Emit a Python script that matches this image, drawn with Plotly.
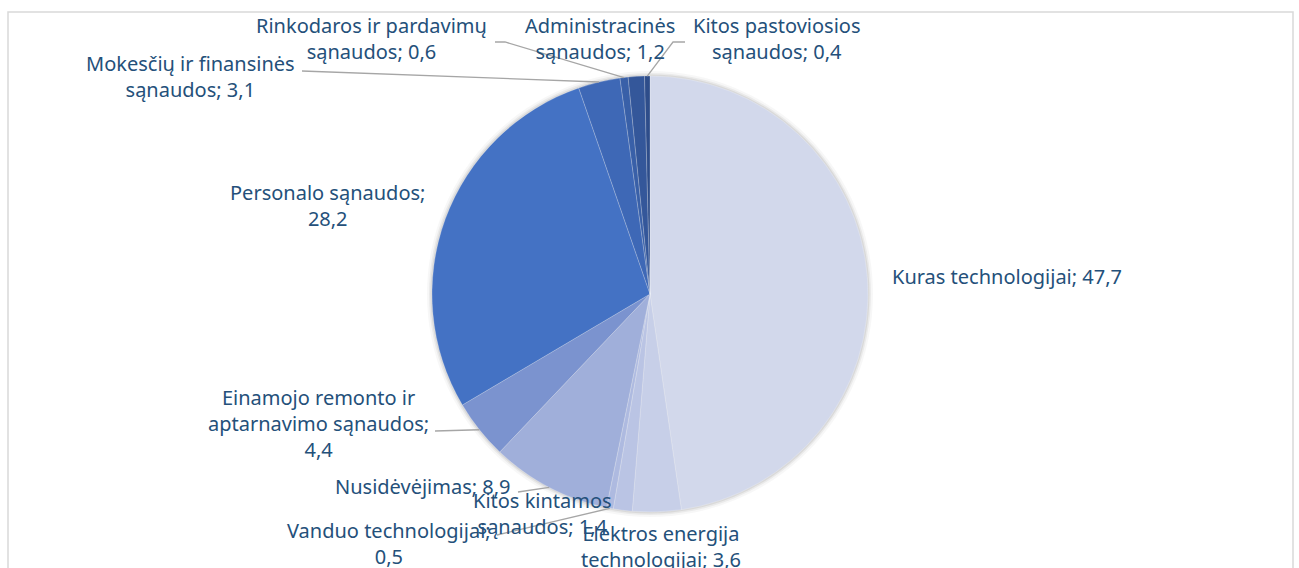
import numpy as np
import plotly.graph_objects as go

# ---------------- data ----------------
categories = [
    "Kuras technologijai",
    "Elektros energija technologijai",
    "Kitos kintamos sąnaudos",
    "Vanduo technologijai",
    "Nusidėvėjimas",
    "Einamojo remonto ir aptarnavimo sąnaudos",
    "Personalo sąnaudos",
    "Mokesčių ir finansinės sąnaudos",
    "Rinkodaros ir pardavimų sąnaudos",
    "Administracinės sąnaudos",
    "Kitos pastoviosios sąnaudos",
]
values = [47.7, 3.6, 1.4, 0.5, 8.9, 4.4, 28.2, 3.1, 0.6, 1.2, 0.4]

# label text as shown (wrapped names + separator before value)
label_names = [
    "Kuras technologijai",
    "Elektros energija<br>technologijai",
    "Kitos kintamos<br>sąnaudos",
    "Vanduo technologijai",
    "Nusidėvėjimas",
    "Einamojo remonto ir<br>aptarnavimo sąnaudos",
    "Personalo sąnaudos",
    "Mokesčių ir finansinės<br>sąnaudos",
    "Rinkodaros ir pardavimų<br>sąnaudos",
    "Administracinės<br>sąnaudos",
    "Kitos pastoviosios<br>sąnaudos",
]
value_sep = ["; ", "; ", "; ", ";<br>", "; ", ";<br>", ";<br>", "; ", "; ", "; ", "; "]

colors = ["#D2D8EB", "#C7CFE8", "#BAC4E4", "#AEBAE0", "#A0AFDA", "#7B93CF",
          "#4472C4", "#3E68B6", "#3960A8", "#34579A", "#2E4D8A"]

# ---------------- layout constants (pixels, in screenshot coords) ----------------
OFF = 0
W, H = 1299, 568
CX, CY, R = 650, 294, 218

# label centres (layout positions)
label_pos = [
    (1007, 276), (661, 546), (542, 513), (389, 543), (423, 486), (318, 423),
    (327, 205), (190, 76), (371, 39), (600, 39), (777, 39),
]
# leader line start on label side (None = no line), optional elbow
leader_start = [None, None, None, [(497, 535)], [(518, 492)], [(435, 431)],
                None, [(302, 71)], [(495, 42), (505, 42)], None, [(685, 42), (673, 42)]]

TEXT_COLOR = "#24507A"
FONT = "Noto Sans"
FS = 20


def px2paper(x, y):
    return (x - OFF) / W, 1 - (y - OFF) / H


def pie_domain(r):
    x0, y0 = px2paper(CX - r, CY + r)
    x1, y1 = px2paper(CX + r, CY - r)
    return dict(x=[x0, x1], y=[y0, y1])


fig = go.Figure()
# soft shadow rings behind the pie
for extra, alpha in [(5, 0.03), (3, 0.05), (1.5, 0.07)]:
    fig.add_trace(go.Pie(
        values=[1], labels=["shadow"], sort=False, textinfo="none", hoverinfo="skip",
        marker=dict(colors=[f"rgba(0,0,0,{alpha})"], line=dict(width=0)),
        showlegend=False, domain=pie_domain(R + extra),
    ))

fig.add_trace(go.Pie(
    labels=categories,
    values=values,
    sort=False,
    direction="clockwise",
    rotation=0,
    marker=dict(colors=colors, line=dict(color="rgba(255,255,255,0.35)", width=0.6)),
    textinfo="none",
    hoverinfo="label+value",
    showlegend=False,
    domain=pie_domain(R),
))

# slice mid angles from data
vals = np.array(values)
cum = np.cumsum(vals) - vals / 2
frac = cum / vals.sum()
ang = np.deg2rad(90 - frac * 360)
edge_x = CX + R * np.cos(ang)
edge_y = CY - R * np.sin(ang)

shapes = []
annotations = []
for i, name in enumerate(label_names):
    txt = f"{name}{value_sep[i]}{values[i]:.1f}".replace(".", ",")
    lx, ly = label_pos[i]
    px, py = px2paper(lx, ly)
    annotations.append(dict(
        x=px, y=py, xref="paper", yref="paper", text=txt, showarrow=False,
        xanchor="center", yanchor="middle", align="center",
        font=dict(family=FONT, size=FS, color=TEXT_COLOR),
    ))
    if leader_start[i] is not None:
        pts = list(leader_start[i]) + [(edge_x[i], edge_y[i])]
        path = "M " + " L ".join(f"{px2paper(a, b)[0]},{px2paper(a, b)[1]}" for a, b in pts)
        shapes.append(dict(type="path", xref="paper", yref="paper", path=path,
                           line=dict(color="#A6A6A6", width=1.3)))

# chart border
bx0, by0 = px2paper(8, 12)
bx1, by1 = px2paper(1293, 590)
shapes.append(dict(type="rect", xref="paper", yref="paper", x0=bx0, y0=by1, x1=bx1, y1=by0,
                   line=dict(color="#D9D9D9", width=1.5), fillcolor="rgba(0,0,0,0)", layer="below"))

fig.update_layout(
    width=W, height=H,
    margin=dict(l=0, r=0, t=0, b=0),
    paper_bgcolor="white",
    plot_bgcolor="white",
    shapes=shapes,
    annotations=annotations,
    font=dict(family=FONT, size=FS, color=TEXT_COLOR),
)

fig.write_html(
    "out.html",
    config={"displayModeBar": False},
    post_script="document.body.style.margin='0';document.body.style.overflow='hidden';",
)
